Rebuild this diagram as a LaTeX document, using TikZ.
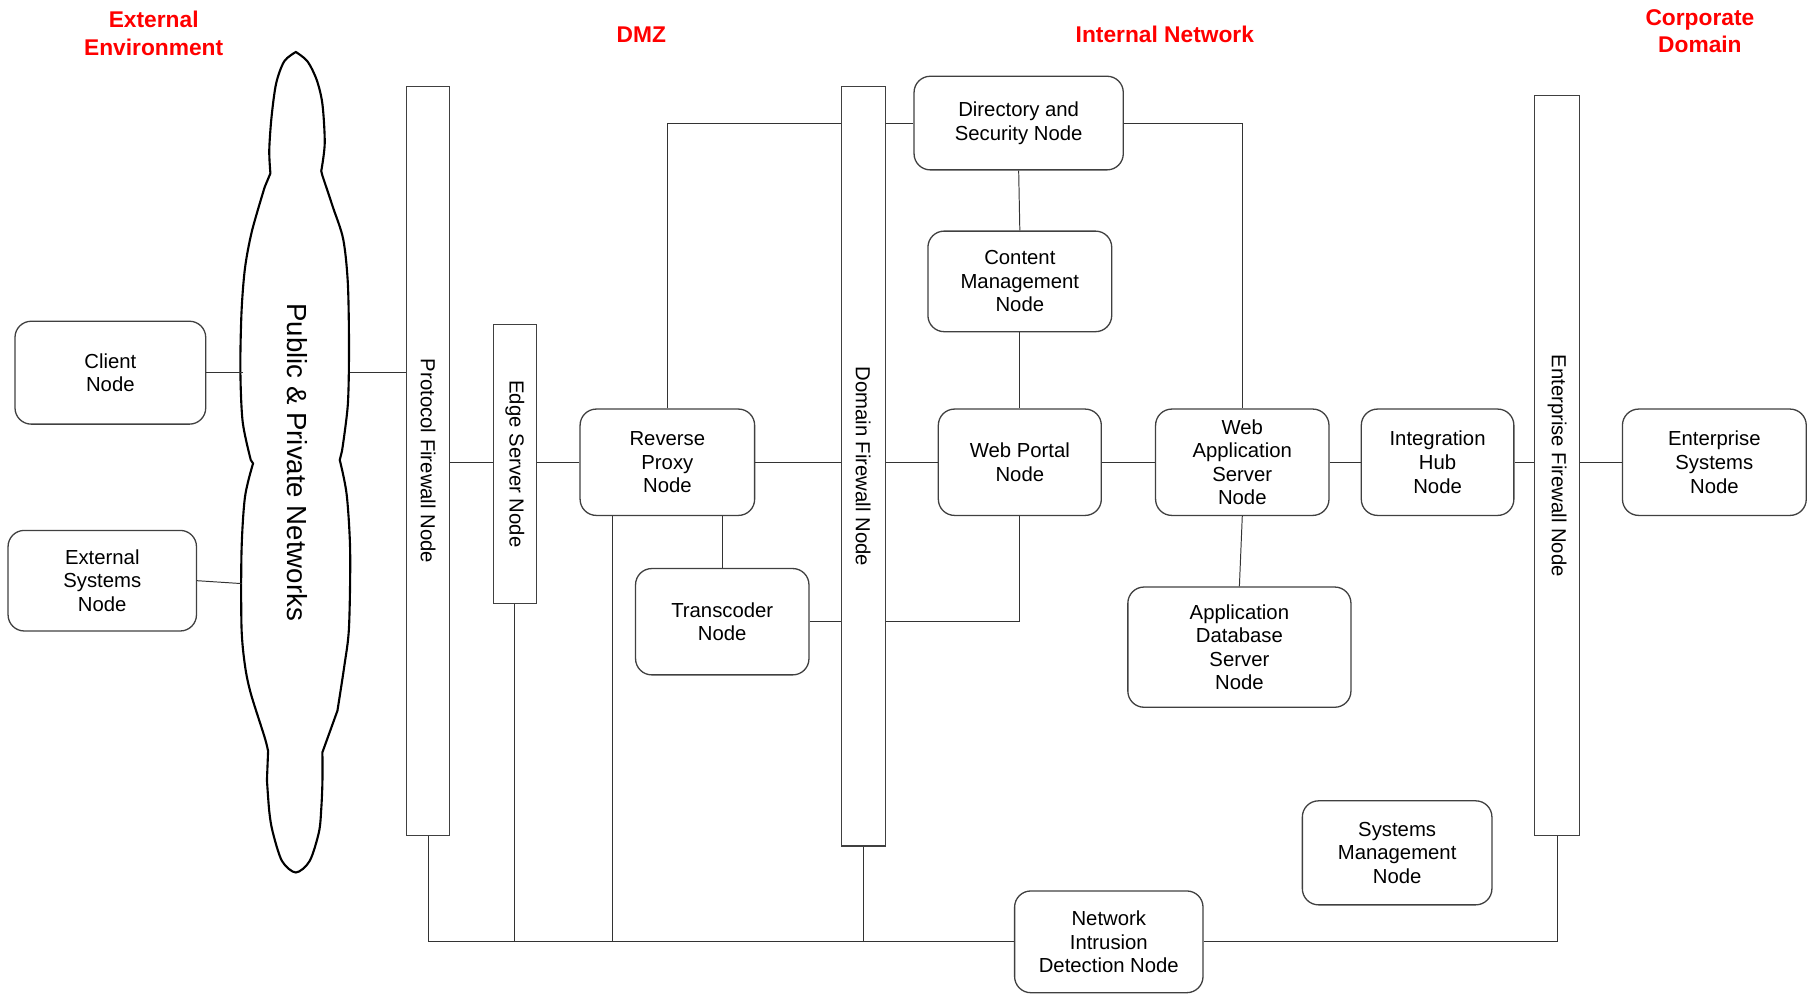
\documentclass[tikz,border=0pt]{standalone}
\usepackage{fontspec}
\setmainfont{Liberation Sans}
\usepackage{tikz}
\usetikzlibrary{positioning}
\usetikzlibrary{calc}

\begin{document}
\begin{tikzpicture}[x=0.025cm,y=-0.025cm,
	font=\fontsize{12.5}{14.5}\selectfont,
	box/.style={draw=black!75, line width=0.8pt, rounded corners=0.35cm, align=center, inner sep=0pt},
	bar/.style={draw=black!75, line width=0.8pt, inner sep=0pt, minimum width=0.93cm},
	link/.style={draw=black!80, line width=0.6pt},
	zone/.style={text=red, font=\fontsize{14}{16.8}\selectfont\bfseries, align=center}]
			\useasboundingbox (0,0) rectangle (1568,860);
			% zones
			\node at (133,29) (zext) [zone] {External\\Environment};
			\node at (555,30) (zdmz) [zone] {DMZ};
			\node at (1008,30) (zint) [zone] {Internal Network};
			\node at (1471,27) (zcorp) [zone] {Corporate\\Domain};
			% the network cloud
			\draw[line width=1.3pt] plot[smooth] coordinates {(256,45) (246,53) (239,72) (235,101) (233,130) (234,150)}
				-- plot[smooth] coordinates {(229,162) (218,200) (212,232) (209,270) (208,320) (210,365) (217,398)}
				-- plot[smooth] coordinates {(219,401) (212,430) (209,477) (209,543) (212,576) (217,600) (229,638) (232,650)}
				-- plot[smooth] coordinates {(231,675) (233,702) (236,720) (244,745) (256,755) (268,745) (276,720) (278,700) (279,677) (279,651)}
				-- plot[smooth] coordinates {(292,615) (298,576) (302,543) (303,477) (300,428) (294,398)}
				-- plot[smooth] coordinates {(296,390) (301,350) (302,300) (301,245) (297,207) (288,179) (279,152)}
				-- plot[smooth] coordinates {(278,148) (281,124) (279,90) (274,69) (266,53) (256,45)} -- cycle;
			\node at (257,400) (net) {\fontsize{17}{19}\selectfont\rotatebox{-90}{Public \& Private Networks}};
			\coordinate (netA) at (210,322);
			\coordinate (netB) at (209,505);
			\coordinate (netC) at (303,322);
			% nodes
			\node at (95.5,322.5) (client) [box, minimum width=4.125cm, minimum height=2.225cm] {Client\\Node};
			\node at (88.5,502.5) (extsys) [box, minimum width=4.075cm, minimum height=2.175cm] {External\\Systems\\Node};
			\node at (370.5,399) (pfw) [bar, minimum height=16.2cm] {\rotatebox{-90}{Protocol Firewall Node}};
			\node at (445.5,401.5) (edge) [bar, minimum height=6.025cm] {\rotatebox{-90}{Edge Server Node}};
			\node at (577.5,400) (rproxy) [box, minimum width=3.775cm, minimum height=2.3cm] {Reverse\\Proxy\\Node};
			\node at (625,538) (trans) [box, minimum width=3.75cm, minimum height=2.3cm] {Transcoder\\Node};
			\node at (747,403.5) (dfw) [bar, minimum width=0.95cm, minimum height=16.425cm] {\rotatebox{-90}{Domain Firewall Node}};
			\node at (881.5,106.5) (dir) [box, minimum width=4.525cm, minimum height=2.025cm] {Directory and\\Security Node};
			\node at (882.5,243.5) (cms) [box, minimum width=3.975cm, minimum height=2.175cm] {Content\\Management\\Node};
			\node at (882.5,400) (portal) [box, minimum width=3.525cm, minimum height=2.3cm] {Web Portal\\Node};
			\node at (1075,400) (was) [box, minimum width=3.75cm, minimum height=2.3cm] {Web\\Application\\Server\\Node};
			\node at (1072.5,560) (appdb) [box, minimum width=4.825cm, minimum height=2.6cm] {Application\\Database\\Server\\Node};
			\node at (1244,400) (hub) [box, minimum width=3.3cm, minimum height=2.3cm] {Integration\\Hub\\Node};
			\node at (1347.5,403) (efw) [bar, minimum width=0.975cm, minimum height=16cm] {\rotatebox{-90}{Enterprise Firewall Node}};
			\node at (1483.5,400) (entsys) [box, minimum width=3.975cm, minimum height=2.3cm] {Enterprise\\Systems\\Node};
			\node at (1209,738) (sysmgmt) [box, minimum width=4.1cm, minimum height=2.25cm] {Systems\\Management\\Node};
			\node at (959.5,815) (nids) [box, minimum width=4.075cm, minimum height=2.2cm] {Network\\Intrusion\\Detection Node};
			% links
			\draw[link] (client.east |- netA) -- (netA); \draw[link] (extsys.east) -- (netB);
			\draw[link] (netC) -- (pfw.west |- netC);
			\draw[link] (pfw.east |- rproxy.west) -- (edge.west |- rproxy.west); \draw[link] (edge.east |- rproxy.west) -- (rproxy.west);
			\draw[link] (rproxy.east) -- (dfw.west |- rproxy.east); \draw[link] (dfw.east |- portal.west) -- (portal.west);
			\draw[link] (portal.east) -- (was.west); \draw[link] (was.east) -- (hub.west);
			\draw[link] (hub.east) -- (efw.west |- hub.east); \draw[link] (efw.east |- entsys.west) -- (entsys.west);
			\draw[link] (rproxy.north) |- (dfw.west |- dir.west); \draw[link] (dfw.east |- dir.west) -- (dir.west);
			\draw[link] (dir.south) -- (cms.north); \draw[link] (cms.south) -- (portal.north);
			\draw[link] (dir.east) -| (was.north); \draw[link] (was.south) -- (appdb.north);
			\draw[link] (trans.north) -- (trans.north |- rproxy.south); \draw[link] (trans.east) -- (dfw.west |- trans.east);
			\draw[link] (portal.south) |- (dfw.east |- trans.east);
			% monitoring bus
			\draw[link] (pfw.south) |- (nids.west); \draw[link] (nids.east) -| (efw.south);
			\draw[link] (edge.south) -- (edge.south |- nids.west);
			\draw[link] ([xshift=0.725cm]rproxy.south west) -- ([xshift=0.725cm]rproxy.south west |- nids.west);
			\draw[link] (dfw.south) -- (dfw.south |- nids.west);
\end{tikzpicture}
\end{document}
